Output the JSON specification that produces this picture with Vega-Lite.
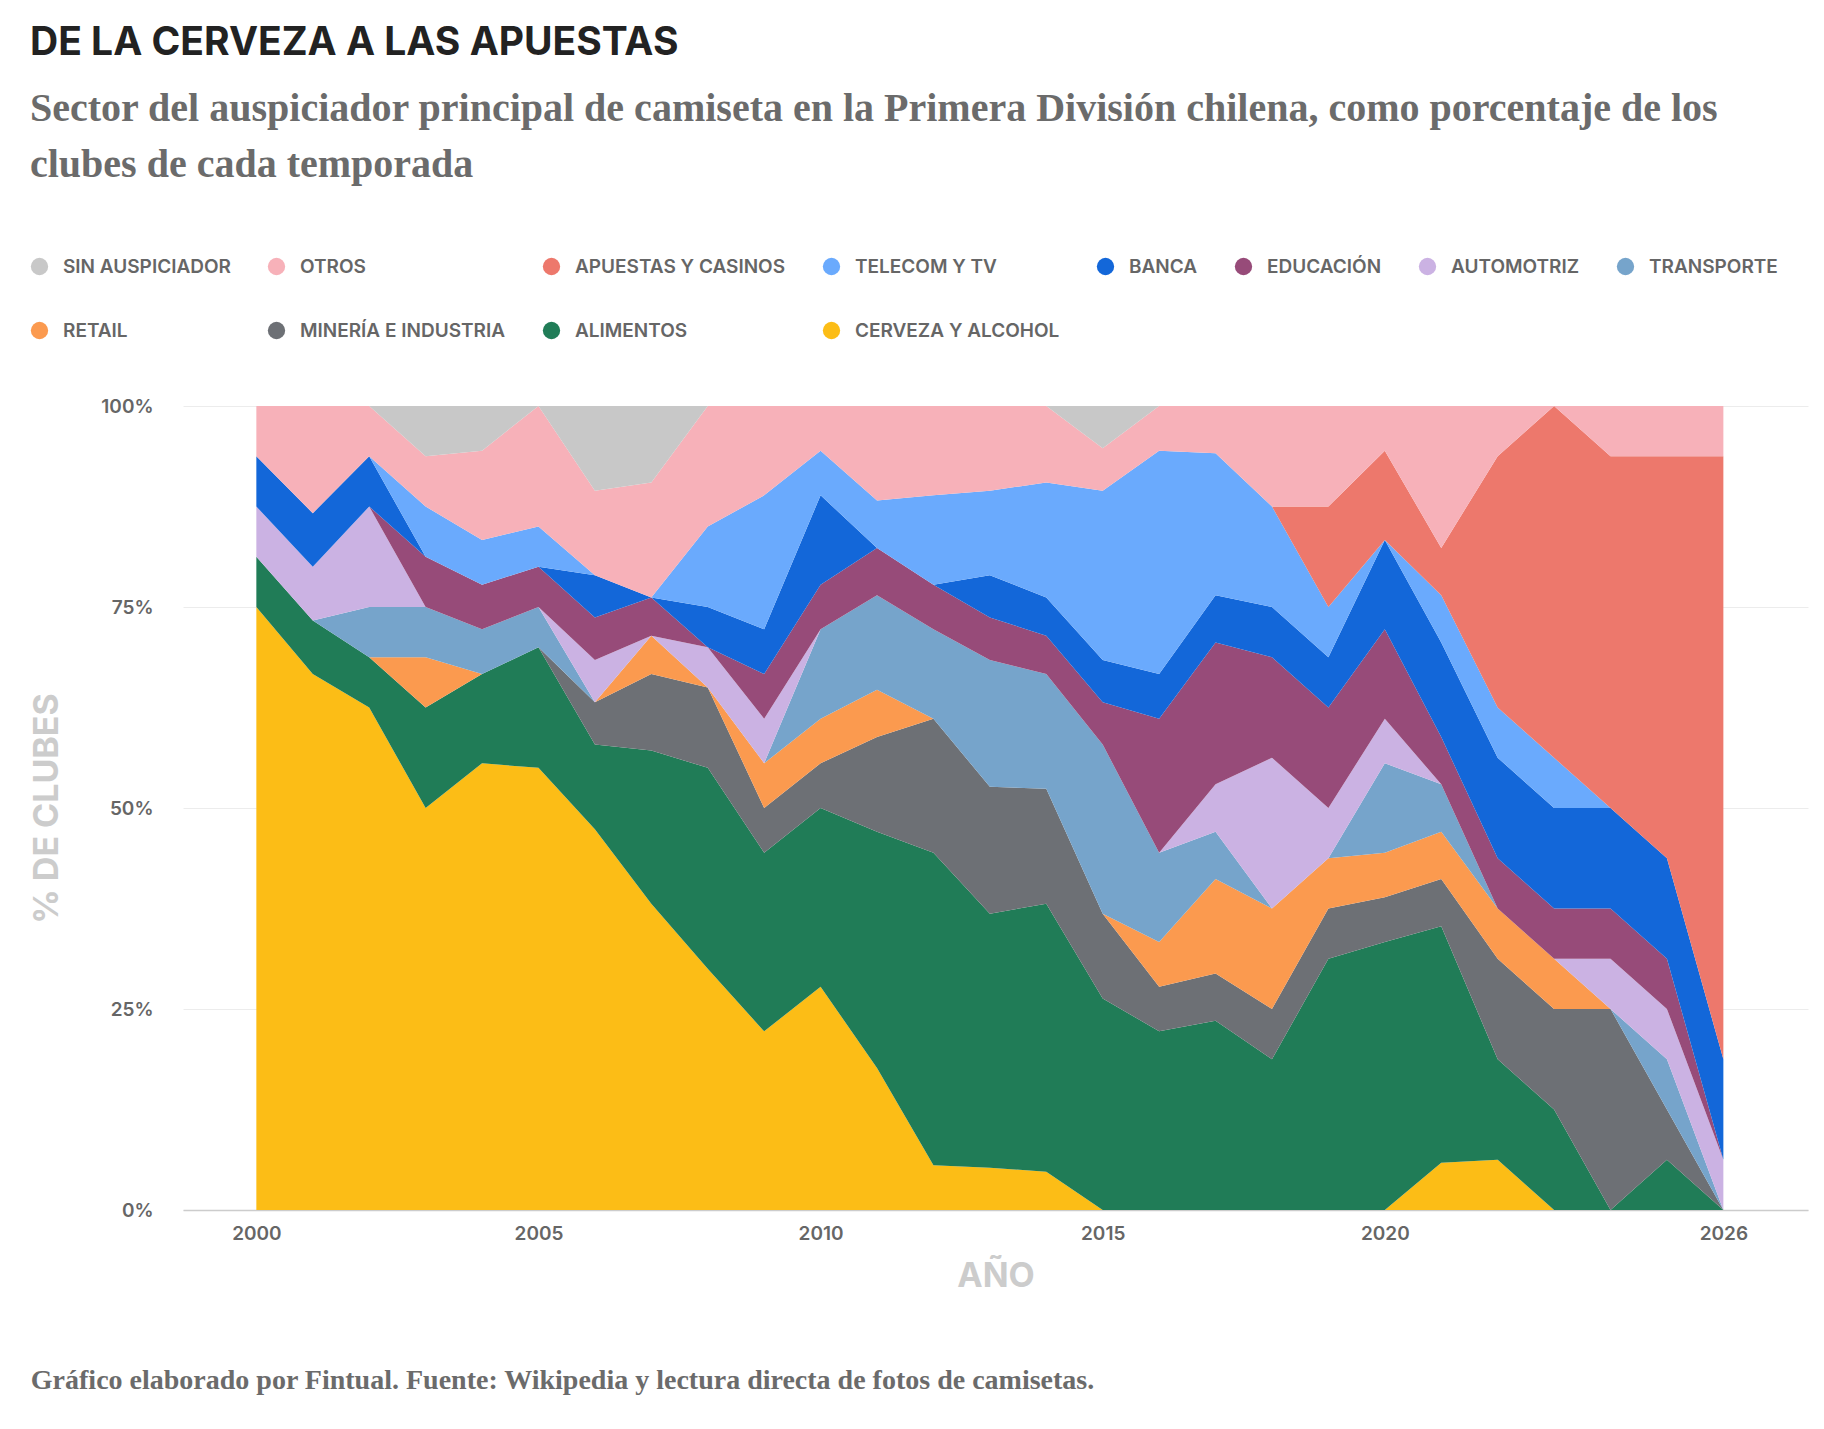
{
  "$schema": "https://vega.github.io/schema/vega-lite/v6.json",
  "padding": {"left": 30, "right": 18, "top": 24, "bottom": 10},
  "background": "white",
  "title": {
    "text": "DE LA CERVEZA A LAS APUESTAS",
    "subtitle": ["Sector del auspiciador principal de camiseta en la Primera División chilena, como porcentaje de los", "clubes de cada temporada"],
    "anchor": "start",
    "frame": "bounds",
    "font": "Inter",
    "fontSize": 39,
    "fontWeight": 700,
    "color": "#222222",
    "subtitleFont": "Liberation Serif",
    "subtitleFontSize": 40,
    "subtitleFontWeight": 700,
    "subtitleColor": "#6b6b6b",
    "subtitleLineHeight": 56,
    "subtitlePadding": 26,
    "offset": 72
  },
  "datasets": {
    "orden": [
      {"sector": "CERVEZA Y ALCOHOL", "orden": 1}, {"sector": "ALIMENTOS", "orden": 2}, {"sector": "MINERÍA E INDUSTRIA", "orden": 3}, {"sector": "RETAIL", "orden": 4}, {"sector": "TRANSPORTE", "orden": 5}, {"sector": "AUTOMOTRIZ", "orden": 6}, {"sector": "EDUCACIÓN", "orden": 7}, {"sector": "BANCA", "orden": 8}, {"sector": "TELECOM Y TV", "orden": 9}, {"sector": "APUESTAS Y CASINOS", "orden": 10}, {"sector": "OTROS", "orden": 11}, {"sector": "SIN AUSPICIADOR", "orden": 12}
    ]
  },
  "vconcat": [
    {
      "width": 1625,
      "height": 804,
      "title": {
        "text": "Gráfico elaborado por Fintual. Fuente: Wikipedia y lectura directa de fotos de camisetas.",
        "orient": "bottom",
        "anchor": "start",
        "frame": "bounds",
        "font": "Liberation Serif",
        "fontSize": 28,
        "fontWeight": 700,
        "color": "#6b6b6b",
        "offset": 74
      },
      "data": {
        "values": [
          {"anio": 2000, "sector": "CERVEZA Y ALCOHOL", "clubes": 12}, {"anio": 2000, "sector": "ALIMENTOS", "clubes": 1}, {"anio": 2000, "sector": "MINERÍA E INDUSTRIA", "clubes": 0}, {"anio": 2000, "sector": "RETAIL", "clubes": 0}, {"anio": 2000, "sector": "TRANSPORTE", "clubes": 0}, {"anio": 2000, "sector": "AUTOMOTRIZ", "clubes": 1}, {"anio": 2000, "sector": "EDUCACIÓN", "clubes": 0}, {"anio": 2000, "sector": "BANCA", "clubes": 1}, {"anio": 2000, "sector": "TELECOM Y TV", "clubes": 0}, {"anio": 2000, "sector": "APUESTAS Y CASINOS", "clubes": 0}, {"anio": 2000, "sector": "OTROS", "clubes": 1}, {"anio": 2000, "sector": "SIN AUSPICIADOR", "clubes": 0},
          {"anio": 2001, "sector": "CERVEZA Y ALCOHOL", "clubes": 10}, {"anio": 2001, "sector": "ALIMENTOS", "clubes": 1}, {"anio": 2001, "sector": "MINERÍA E INDUSTRIA", "clubes": 0}, {"anio": 2001, "sector": "RETAIL", "clubes": 0}, {"anio": 2001, "sector": "TRANSPORTE", "clubes": 0}, {"anio": 2001, "sector": "AUTOMOTRIZ", "clubes": 1}, {"anio": 2001, "sector": "EDUCACIÓN", "clubes": 0}, {"anio": 2001, "sector": "BANCA", "clubes": 1}, {"anio": 2001, "sector": "TELECOM Y TV", "clubes": 0}, {"anio": 2001, "sector": "APUESTAS Y CASINOS", "clubes": 0}, {"anio": 2001, "sector": "OTROS", "clubes": 2}, {"anio": 2001, "sector": "SIN AUSPICIADOR", "clubes": 0},
          {"anio": 2002, "sector": "CERVEZA Y ALCOHOL", "clubes": 10}, {"anio": 2002, "sector": "ALIMENTOS", "clubes": 1}, {"anio": 2002, "sector": "MINERÍA E INDUSTRIA", "clubes": 0}, {"anio": 2002, "sector": "RETAIL", "clubes": 0}, {"anio": 2002, "sector": "TRANSPORTE", "clubes": 1}, {"anio": 2002, "sector": "AUTOMOTRIZ", "clubes": 2}, {"anio": 2002, "sector": "EDUCACIÓN", "clubes": 0}, {"anio": 2002, "sector": "BANCA", "clubes": 1}, {"anio": 2002, "sector": "TELECOM Y TV", "clubes": 0}, {"anio": 2002, "sector": "APUESTAS Y CASINOS", "clubes": 0}, {"anio": 2002, "sector": "OTROS", "clubes": 1}, {"anio": 2002, "sector": "SIN AUSPICIADOR", "clubes": 0},
          {"anio": 2003, "sector": "CERVEZA Y ALCOHOL", "clubes": 8}, {"anio": 2003, "sector": "ALIMENTOS", "clubes": 2}, {"anio": 2003, "sector": "MINERÍA E INDUSTRIA", "clubes": 0}, {"anio": 2003, "sector": "RETAIL", "clubes": 1}, {"anio": 2003, "sector": "TRANSPORTE", "clubes": 1}, {"anio": 2003, "sector": "AUTOMOTRIZ", "clubes": 0}, {"anio": 2003, "sector": "EDUCACIÓN", "clubes": 1}, {"anio": 2003, "sector": "BANCA", "clubes": 0}, {"anio": 2003, "sector": "TELECOM Y TV", "clubes": 1}, {"anio": 2003, "sector": "APUESTAS Y CASINOS", "clubes": 0}, {"anio": 2003, "sector": "OTROS", "clubes": 1}, {"anio": 2003, "sector": "SIN AUSPICIADOR", "clubes": 1},
          {"anio": 2004, "sector": "CERVEZA Y ALCOHOL", "clubes": 10}, {"anio": 2004, "sector": "ALIMENTOS", "clubes": 2}, {"anio": 2004, "sector": "MINERÍA E INDUSTRIA", "clubes": 0}, {"anio": 2004, "sector": "RETAIL", "clubes": 0}, {"anio": 2004, "sector": "TRANSPORTE", "clubes": 1}, {"anio": 2004, "sector": "AUTOMOTRIZ", "clubes": 0}, {"anio": 2004, "sector": "EDUCACIÓN", "clubes": 1}, {"anio": 2004, "sector": "BANCA", "clubes": 0}, {"anio": 2004, "sector": "TELECOM Y TV", "clubes": 1}, {"anio": 2004, "sector": "APUESTAS Y CASINOS", "clubes": 0}, {"anio": 2004, "sector": "OTROS", "clubes": 2}, {"anio": 2004, "sector": "SIN AUSPICIADOR", "clubes": 1},
          {"anio": 2005, "sector": "CERVEZA Y ALCOHOL", "clubes": 11}, {"anio": 2005, "sector": "ALIMENTOS", "clubes": 3}, {"anio": 2005, "sector": "MINERÍA E INDUSTRIA", "clubes": 0}, {"anio": 2005, "sector": "RETAIL", "clubes": 0}, {"anio": 2005, "sector": "TRANSPORTE", "clubes": 1}, {"anio": 2005, "sector": "AUTOMOTRIZ", "clubes": 0}, {"anio": 2005, "sector": "EDUCACIÓN", "clubes": 1}, {"anio": 2005, "sector": "BANCA", "clubes": 0}, {"anio": 2005, "sector": "TELECOM Y TV", "clubes": 1}, {"anio": 2005, "sector": "APUESTAS Y CASINOS", "clubes": 0}, {"anio": 2005, "sector": "OTROS", "clubes": 3}, {"anio": 2005, "sector": "SIN AUSPICIADOR", "clubes": 0},
          {"anio": 2006, "sector": "CERVEZA Y ALCOHOL", "clubes": 9}, {"anio": 2006, "sector": "ALIMENTOS", "clubes": 2}, {"anio": 2006, "sector": "MINERÍA E INDUSTRIA", "clubes": 1}, {"anio": 2006, "sector": "RETAIL", "clubes": 0}, {"anio": 2006, "sector": "TRANSPORTE", "clubes": 0}, {"anio": 2006, "sector": "AUTOMOTRIZ", "clubes": 1}, {"anio": 2006, "sector": "EDUCACIÓN", "clubes": 1}, {"anio": 2006, "sector": "BANCA", "clubes": 1}, {"anio": 2006, "sector": "TELECOM Y TV", "clubes": 0}, {"anio": 2006, "sector": "APUESTAS Y CASINOS", "clubes": 0}, {"anio": 2006, "sector": "OTROS", "clubes": 2}, {"anio": 2006, "sector": "SIN AUSPICIADOR", "clubes": 2},
          {"anio": 2007, "sector": "CERVEZA Y ALCOHOL", "clubes": 8}, {"anio": 2007, "sector": "ALIMENTOS", "clubes": 4}, {"anio": 2007, "sector": "MINERÍA E INDUSTRIA", "clubes": 2}, {"anio": 2007, "sector": "RETAIL", "clubes": 1}, {"anio": 2007, "sector": "TRANSPORTE", "clubes": 0}, {"anio": 2007, "sector": "AUTOMOTRIZ", "clubes": 0}, {"anio": 2007, "sector": "EDUCACIÓN", "clubes": 1}, {"anio": 2007, "sector": "BANCA", "clubes": 0}, {"anio": 2007, "sector": "TELECOM Y TV", "clubes": 0}, {"anio": 2007, "sector": "APUESTAS Y CASINOS", "clubes": 0}, {"anio": 2007, "sector": "OTROS", "clubes": 3}, {"anio": 2007, "sector": "SIN AUSPICIADOR", "clubes": 2},
          {"anio": 2008, "sector": "CERVEZA Y ALCOHOL", "clubes": 6}, {"anio": 2008, "sector": "ALIMENTOS", "clubes": 5}, {"anio": 2008, "sector": "MINERÍA E INDUSTRIA", "clubes": 2}, {"anio": 2008, "sector": "RETAIL", "clubes": 0}, {"anio": 2008, "sector": "TRANSPORTE", "clubes": 0}, {"anio": 2008, "sector": "AUTOMOTRIZ", "clubes": 1}, {"anio": 2008, "sector": "EDUCACIÓN", "clubes": 0}, {"anio": 2008, "sector": "BANCA", "clubes": 1}, {"anio": 2008, "sector": "TELECOM Y TV", "clubes": 2}, {"anio": 2008, "sector": "APUESTAS Y CASINOS", "clubes": 0}, {"anio": 2008, "sector": "OTROS", "clubes": 3}, {"anio": 2008, "sector": "SIN AUSPICIADOR", "clubes": 0},
          {"anio": 2009, "sector": "CERVEZA Y ALCOHOL", "clubes": 4}, {"anio": 2009, "sector": "ALIMENTOS", "clubes": 4}, {"anio": 2009, "sector": "MINERÍA E INDUSTRIA", "clubes": 1}, {"anio": 2009, "sector": "RETAIL", "clubes": 1}, {"anio": 2009, "sector": "TRANSPORTE", "clubes": 0}, {"anio": 2009, "sector": "AUTOMOTRIZ", "clubes": 1}, {"anio": 2009, "sector": "EDUCACIÓN", "clubes": 1}, {"anio": 2009, "sector": "BANCA", "clubes": 1}, {"anio": 2009, "sector": "TELECOM Y TV", "clubes": 3}, {"anio": 2009, "sector": "APUESTAS Y CASINOS", "clubes": 0}, {"anio": 2009, "sector": "OTROS", "clubes": 2}, {"anio": 2009, "sector": "SIN AUSPICIADOR", "clubes": 0},
          {"anio": 2010, "sector": "CERVEZA Y ALCOHOL", "clubes": 5}, {"anio": 2010, "sector": "ALIMENTOS", "clubes": 4}, {"anio": 2010, "sector": "MINERÍA E INDUSTRIA", "clubes": 1}, {"anio": 2010, "sector": "RETAIL", "clubes": 1}, {"anio": 2010, "sector": "TRANSPORTE", "clubes": 2}, {"anio": 2010, "sector": "AUTOMOTRIZ", "clubes": 0}, {"anio": 2010, "sector": "EDUCACIÓN", "clubes": 1}, {"anio": 2010, "sector": "BANCA", "clubes": 2}, {"anio": 2010, "sector": "TELECOM Y TV", "clubes": 1}, {"anio": 2010, "sector": "APUESTAS Y CASINOS", "clubes": 0}, {"anio": 2010, "sector": "OTROS", "clubes": 1}, {"anio": 2010, "sector": "SIN AUSPICIADOR", "clubes": 0},
          {"anio": 2011, "sector": "CERVEZA Y ALCOHOL", "clubes": 3}, {"anio": 2011, "sector": "ALIMENTOS", "clubes": 5}, {"anio": 2011, "sector": "MINERÍA E INDUSTRIA", "clubes": 2}, {"anio": 2011, "sector": "RETAIL", "clubes": 1}, {"anio": 2011, "sector": "TRANSPORTE", "clubes": 2}, {"anio": 2011, "sector": "AUTOMOTRIZ", "clubes": 0}, {"anio": 2011, "sector": "EDUCACIÓN", "clubes": 1}, {"anio": 2011, "sector": "BANCA", "clubes": 0}, {"anio": 2011, "sector": "TELECOM Y TV", "clubes": 1}, {"anio": 2011, "sector": "APUESTAS Y CASINOS", "clubes": 0}, {"anio": 2011, "sector": "OTROS", "clubes": 2}, {"anio": 2011, "sector": "SIN AUSPICIADOR", "clubes": 0},
          {"anio": 2012, "sector": "CERVEZA Y ALCOHOL", "clubes": 1}, {"anio": 2012, "sector": "ALIMENTOS", "clubes": 7}, {"anio": 2012, "sector": "MINERÍA E INDUSTRIA", "clubes": 3}, {"anio": 2012, "sector": "RETAIL", "clubes": 0}, {"anio": 2012, "sector": "TRANSPORTE", "clubes": 2}, {"anio": 2012, "sector": "AUTOMOTRIZ", "clubes": 0}, {"anio": 2012, "sector": "EDUCACIÓN", "clubes": 1}, {"anio": 2012, "sector": "BANCA", "clubes": 0}, {"anio": 2012, "sector": "TELECOM Y TV", "clubes": 2}, {"anio": 2012, "sector": "APUESTAS Y CASINOS", "clubes": 0}, {"anio": 2012, "sector": "OTROS", "clubes": 2}, {"anio": 2012, "sector": "SIN AUSPICIADOR", "clubes": 0},
          {"anio": 2013, "sector": "CERVEZA Y ALCOHOL", "clubes": 1}, {"anio": 2013, "sector": "ALIMENTOS", "clubes": 6}, {"anio": 2013, "sector": "MINERÍA E INDUSTRIA", "clubes": 3}, {"anio": 2013, "sector": "RETAIL", "clubes": 0}, {"anio": 2013, "sector": "TRANSPORTE", "clubes": 3}, {"anio": 2013, "sector": "AUTOMOTRIZ", "clubes": 0}, {"anio": 2013, "sector": "EDUCACIÓN", "clubes": 1}, {"anio": 2013, "sector": "BANCA", "clubes": 1}, {"anio": 2013, "sector": "TELECOM Y TV", "clubes": 2}, {"anio": 2013, "sector": "APUESTAS Y CASINOS", "clubes": 0}, {"anio": 2013, "sector": "OTROS", "clubes": 2}, {"anio": 2013, "sector": "SIN AUSPICIADOR", "clubes": 0},
          {"anio": 2014, "sector": "CERVEZA Y ALCOHOL", "clubes": 1}, {"anio": 2014, "sector": "ALIMENTOS", "clubes": 7}, {"anio": 2014, "sector": "MINERÍA E INDUSTRIA", "clubes": 3}, {"anio": 2014, "sector": "RETAIL", "clubes": 0}, {"anio": 2014, "sector": "TRANSPORTE", "clubes": 3}, {"anio": 2014, "sector": "AUTOMOTRIZ", "clubes": 0}, {"anio": 2014, "sector": "EDUCACIÓN", "clubes": 1}, {"anio": 2014, "sector": "BANCA", "clubes": 1}, {"anio": 2014, "sector": "TELECOM Y TV", "clubes": 3}, {"anio": 2014, "sector": "APUESTAS Y CASINOS", "clubes": 0}, {"anio": 2014, "sector": "OTROS", "clubes": 2}, {"anio": 2014, "sector": "SIN AUSPICIADOR", "clubes": 0},
          {"anio": 2015, "sector": "CERVEZA Y ALCOHOL", "clubes": 0}, {"anio": 2015, "sector": "ALIMENTOS", "clubes": 5}, {"anio": 2015, "sector": "MINERÍA E INDUSTRIA", "clubes": 2}, {"anio": 2015, "sector": "RETAIL", "clubes": 0}, {"anio": 2015, "sector": "TRANSPORTE", "clubes": 4}, {"anio": 2015, "sector": "AUTOMOTRIZ", "clubes": 0}, {"anio": 2015, "sector": "EDUCACIÓN", "clubes": 1}, {"anio": 2015, "sector": "BANCA", "clubes": 1}, {"anio": 2015, "sector": "TELECOM Y TV", "clubes": 4}, {"anio": 2015, "sector": "APUESTAS Y CASINOS", "clubes": 0}, {"anio": 2015, "sector": "OTROS", "clubes": 1}, {"anio": 2015, "sector": "SIN AUSPICIADOR", "clubes": 1},
          {"anio": 2016, "sector": "CERVEZA Y ALCOHOL", "clubes": 0}, {"anio": 2016, "sector": "ALIMENTOS", "clubes": 4}, {"anio": 2016, "sector": "MINERÍA E INDUSTRIA", "clubes": 1}, {"anio": 2016, "sector": "RETAIL", "clubes": 1}, {"anio": 2016, "sector": "TRANSPORTE", "clubes": 2}, {"anio": 2016, "sector": "AUTOMOTRIZ", "clubes": 0}, {"anio": 2016, "sector": "EDUCACIÓN", "clubes": 3}, {"anio": 2016, "sector": "BANCA", "clubes": 1}, {"anio": 2016, "sector": "TELECOM Y TV", "clubes": 5}, {"anio": 2016, "sector": "APUESTAS Y CASINOS", "clubes": 0}, {"anio": 2016, "sector": "OTROS", "clubes": 1}, {"anio": 2016, "sector": "SIN AUSPICIADOR", "clubes": 0},
          {"anio": 2017, "sector": "CERVEZA Y ALCOHOL", "clubes": 0}, {"anio": 2017, "sector": "ALIMENTOS", "clubes": 4}, {"anio": 2017, "sector": "MINERÍA E INDUSTRIA", "clubes": 1}, {"anio": 2017, "sector": "RETAIL", "clubes": 2}, {"anio": 2017, "sector": "TRANSPORTE", "clubes": 1}, {"anio": 2017, "sector": "AUTOMOTRIZ", "clubes": 1}, {"anio": 2017, "sector": "EDUCACIÓN", "clubes": 3}, {"anio": 2017, "sector": "BANCA", "clubes": 1}, {"anio": 2017, "sector": "TELECOM Y TV", "clubes": 3}, {"anio": 2017, "sector": "APUESTAS Y CASINOS", "clubes": 0}, {"anio": 2017, "sector": "OTROS", "clubes": 1}, {"anio": 2017, "sector": "SIN AUSPICIADOR", "clubes": 0},
          {"anio": 2018, "sector": "CERVEZA Y ALCOHOL", "clubes": 0}, {"anio": 2018, "sector": "ALIMENTOS", "clubes": 3}, {"anio": 2018, "sector": "MINERÍA E INDUSTRIA", "clubes": 1}, {"anio": 2018, "sector": "RETAIL", "clubes": 2}, {"anio": 2018, "sector": "TRANSPORTE", "clubes": 0}, {"anio": 2018, "sector": "AUTOMOTRIZ", "clubes": 3}, {"anio": 2018, "sector": "EDUCACIÓN", "clubes": 2}, {"anio": 2018, "sector": "BANCA", "clubes": 1}, {"anio": 2018, "sector": "TELECOM Y TV", "clubes": 2}, {"anio": 2018, "sector": "APUESTAS Y CASINOS", "clubes": 0}, {"anio": 2018, "sector": "OTROS", "clubes": 2}, {"anio": 2018, "sector": "SIN AUSPICIADOR", "clubes": 0},
          {"anio": 2019, "sector": "CERVEZA Y ALCOHOL", "clubes": 0}, {"anio": 2019, "sector": "ALIMENTOS", "clubes": 5}, {"anio": 2019, "sector": "MINERÍA E INDUSTRIA", "clubes": 1}, {"anio": 2019, "sector": "RETAIL", "clubes": 1}, {"anio": 2019, "sector": "TRANSPORTE", "clubes": 0}, {"anio": 2019, "sector": "AUTOMOTRIZ", "clubes": 1}, {"anio": 2019, "sector": "EDUCACIÓN", "clubes": 2}, {"anio": 2019, "sector": "BANCA", "clubes": 1}, {"anio": 2019, "sector": "TELECOM Y TV", "clubes": 1}, {"anio": 2019, "sector": "APUESTAS Y CASINOS", "clubes": 2}, {"anio": 2019, "sector": "OTROS", "clubes": 2}, {"anio": 2019, "sector": "SIN AUSPICIADOR", "clubes": 0},
          {"anio": 2020, "sector": "CERVEZA Y ALCOHOL", "clubes": 0}, {"anio": 2020, "sector": "ALIMENTOS", "clubes": 6}, {"anio": 2020, "sector": "MINERÍA E INDUSTRIA", "clubes": 1}, {"anio": 2020, "sector": "RETAIL", "clubes": 1}, {"anio": 2020, "sector": "TRANSPORTE", "clubes": 2}, {"anio": 2020, "sector": "AUTOMOTRIZ", "clubes": 1}, {"anio": 2020, "sector": "EDUCACIÓN", "clubes": 2}, {"anio": 2020, "sector": "BANCA", "clubes": 2}, {"anio": 2020, "sector": "TELECOM Y TV", "clubes": 0}, {"anio": 2020, "sector": "APUESTAS Y CASINOS", "clubes": 2}, {"anio": 2020, "sector": "OTROS", "clubes": 1}, {"anio": 2020, "sector": "SIN AUSPICIADOR", "clubes": 0},
          {"anio": 2021, "sector": "CERVEZA Y ALCOHOL", "clubes": 1}, {"anio": 2021, "sector": "ALIMENTOS", "clubes": 5}, {"anio": 2021, "sector": "MINERÍA E INDUSTRIA", "clubes": 1}, {"anio": 2021, "sector": "RETAIL", "clubes": 1}, {"anio": 2021, "sector": "TRANSPORTE", "clubes": 1}, {"anio": 2021, "sector": "AUTOMOTRIZ", "clubes": 0}, {"anio": 2021, "sector": "EDUCACIÓN", "clubes": 1}, {"anio": 2021, "sector": "BANCA", "clubes": 2}, {"anio": 2021, "sector": "TELECOM Y TV", "clubes": 1}, {"anio": 2021, "sector": "APUESTAS Y CASINOS", "clubes": 1}, {"anio": 2021, "sector": "OTROS", "clubes": 3}, {"anio": 2021, "sector": "SIN AUSPICIADOR", "clubes": 0},
          {"anio": 2022, "sector": "CERVEZA Y ALCOHOL", "clubes": 1}, {"anio": 2022, "sector": "ALIMENTOS", "clubes": 2}, {"anio": 2022, "sector": "MINERÍA E INDUSTRIA", "clubes": 2}, {"anio": 2022, "sector": "RETAIL", "clubes": 1}, {"anio": 2022, "sector": "TRANSPORTE", "clubes": 0}, {"anio": 2022, "sector": "AUTOMOTRIZ", "clubes": 0}, {"anio": 2022, "sector": "EDUCACIÓN", "clubes": 1}, {"anio": 2022, "sector": "BANCA", "clubes": 2}, {"anio": 2022, "sector": "TELECOM Y TV", "clubes": 1}, {"anio": 2022, "sector": "APUESTAS Y CASINOS", "clubes": 5}, {"anio": 2022, "sector": "OTROS", "clubes": 1}, {"anio": 2022, "sector": "SIN AUSPICIADOR", "clubes": 0},
          {"anio": 2023, "sector": "CERVEZA Y ALCOHOL", "clubes": 0}, {"anio": 2023, "sector": "ALIMENTOS", "clubes": 2}, {"anio": 2023, "sector": "MINERÍA E INDUSTRIA", "clubes": 2}, {"anio": 2023, "sector": "RETAIL", "clubes": 1}, {"anio": 2023, "sector": "TRANSPORTE", "clubes": 0}, {"anio": 2023, "sector": "AUTOMOTRIZ", "clubes": 0}, {"anio": 2023, "sector": "EDUCACIÓN", "clubes": 1}, {"anio": 2023, "sector": "BANCA", "clubes": 2}, {"anio": 2023, "sector": "TELECOM Y TV", "clubes": 1}, {"anio": 2023, "sector": "APUESTAS Y CASINOS", "clubes": 7}, {"anio": 2023, "sector": "OTROS", "clubes": 0}, {"anio": 2023, "sector": "SIN AUSPICIADOR", "clubes": 0},
          {"anio": 2024, "sector": "CERVEZA Y ALCOHOL", "clubes": 0}, {"anio": 2024, "sector": "ALIMENTOS", "clubes": 0}, {"anio": 2024, "sector": "MINERÍA E INDUSTRIA", "clubes": 4}, {"anio": 2024, "sector": "RETAIL", "clubes": 0}, {"anio": 2024, "sector": "TRANSPORTE", "clubes": 0}, {"anio": 2024, "sector": "AUTOMOTRIZ", "clubes": 1}, {"anio": 2024, "sector": "EDUCACIÓN", "clubes": 1}, {"anio": 2024, "sector": "BANCA", "clubes": 2}, {"anio": 2024, "sector": "TELECOM Y TV", "clubes": 0}, {"anio": 2024, "sector": "APUESTAS Y CASINOS", "clubes": 7}, {"anio": 2024, "sector": "OTROS", "clubes": 1}, {"anio": 2024, "sector": "SIN AUSPICIADOR", "clubes": 0},
          {"anio": 2025, "sector": "CERVEZA Y ALCOHOL", "clubes": 0}, {"anio": 2025, "sector": "ALIMENTOS", "clubes": 1}, {"anio": 2025, "sector": "MINERÍA E INDUSTRIA", "clubes": 1}, {"anio": 2025, "sector": "RETAIL", "clubes": 0}, {"anio": 2025, "sector": "TRANSPORTE", "clubes": 1}, {"anio": 2025, "sector": "AUTOMOTRIZ", "clubes": 1}, {"anio": 2025, "sector": "EDUCACIÓN", "clubes": 1}, {"anio": 2025, "sector": "BANCA", "clubes": 2}, {"anio": 2025, "sector": "TELECOM Y TV", "clubes": 0}, {"anio": 2025, "sector": "APUESTAS Y CASINOS", "clubes": 8}, {"anio": 2025, "sector": "OTROS", "clubes": 1}, {"anio": 2025, "sector": "SIN AUSPICIADOR", "clubes": 0},
          {"anio": 2026, "sector": "CERVEZA Y ALCOHOL", "clubes": 0}, {"anio": 2026, "sector": "ALIMENTOS", "clubes": 0}, {"anio": 2026, "sector": "MINERÍA E INDUSTRIA", "clubes": 0}, {"anio": 2026, "sector": "RETAIL", "clubes": 0}, {"anio": 2026, "sector": "TRANSPORTE", "clubes": 0}, {"anio": 2026, "sector": "AUTOMOTRIZ", "clubes": 1}, {"anio": 2026, "sector": "EDUCACIÓN", "clubes": 0}, {"anio": 2026, "sector": "BANCA", "clubes": 2}, {"anio": 2026, "sector": "TELECOM Y TV", "clubes": 0}, {"anio": 2026, "sector": "APUESTAS Y CASINOS", "clubes": 12}, {"anio": 2026, "sector": "OTROS", "clubes": 1}, {"anio": 2026, "sector": "SIN AUSPICIADOR", "clubes": 0}
        ]
      },
      "transform": [
        {"lookup": "sector", "from": {"data": {"name": "orden"}, "key": "sector", "fields": ["orden"]}}
      ],
      "mark": {"type": "area", "interpolate": "linear"},
      "encoding": {
        "x": {
          "field": "anio",
          "type": "quantitative",
          "title": "AÑO",
          "scale": {"domain": [1998.7, 2027.5], "nice": false, "zero": false},
          "axis": {
            "values": [2000, 2005, 2010, 2015, 2020, 2026],
            "format": "d",
            "grid": false,
            "ticks": false,
            "domainColor": "#cccccc",
            "domainWidth": 1.5,
            "labelPadding": 14,
            "titlePadding": 16
          }
        },
        "y": {
          "field": "clubes",
          "type": "quantitative",
          "stack": "normalize",
          "title": "% DE CLUBES",
          "scale": {"domain": [0, 1]},
          "axis": {
            "values": [0, 0.25, 0.5, 0.75, 1],
            "format": ".0%",
            "domain": false,
            "ticks": false,
            "gridColor": "#ececec",
            "labelPadding": 30,
            "titlePadding": 36
          }
        },
        "order": {"field": "orden", "type": "quantitative", "sort": "ascending"},
        "color": {
          "field": "sector",
          "type": "nominal",
          "scale": {
            "domain": ["CERVEZA Y ALCOHOL", "ALIMENTOS", "MINERÍA E INDUSTRIA", "RETAIL", "TRANSPORTE", "AUTOMOTRIZ", "EDUCACIÓN", "BANCA", "TELECOM Y TV", "APUESTAS Y CASINOS", "OTROS", "SIN AUSPICIADOR"],
            "range": ["#fcbd16", "#207c57", "#6d7075", "#fb9a4f", "#76a4cb", "#cbb2e3", "#974b79", "#1367d9", "#6aaafd", "#ed786c", "#f7b1b9", "#c8c8c8"]
          },
          "legend": {
            "title": null,
            "orient": "none",
            "legendX": -153,
            "legendY": -149,
            "direction": "horizontal",
            "columns": 8,
            "gridAlign": "none",
            "columnPadding": 36,
            "rowPadding": 44,
            "symbolType": "circle",
            "symbolSize": 300,
            "symbolStrokeWidth": 0,
            "symbolOpacity": 1,
            "labelFont": "Inter",
            "labelFontSize": 19,
            "labelFontWeight": 600,
            "labelColor": "#666666",
            "labelOffset": 14,
            "labelLimit": 500,
            "values": ["SIN AUSPICIADOR", "OTROS", "APUESTAS Y CASINOS", "TELECOM Y TV", "BANCA", "EDUCACIÓN", "AUTOMOTRIZ", "TRANSPORTE", "RETAIL", "MINERÍA E INDUSTRIA", "ALIMENTOS", "CERVEZA Y ALCOHOL"]
          }
        }
      }
    }
  ],
  "config": {
    "view": {"stroke": null},
    "area": {"opacity": 1},
    "axis": {
      "labelFont": "Inter",
      "labelFontSize": 19,
      "labelFontWeight": 600,
      "labelColor": "#666666",
      "titleFont": "Inter",
      "titleFontSize": 34,
      "titleFontWeight": 700,
      "titleColor": "#cccccc"
    }
  }
}
